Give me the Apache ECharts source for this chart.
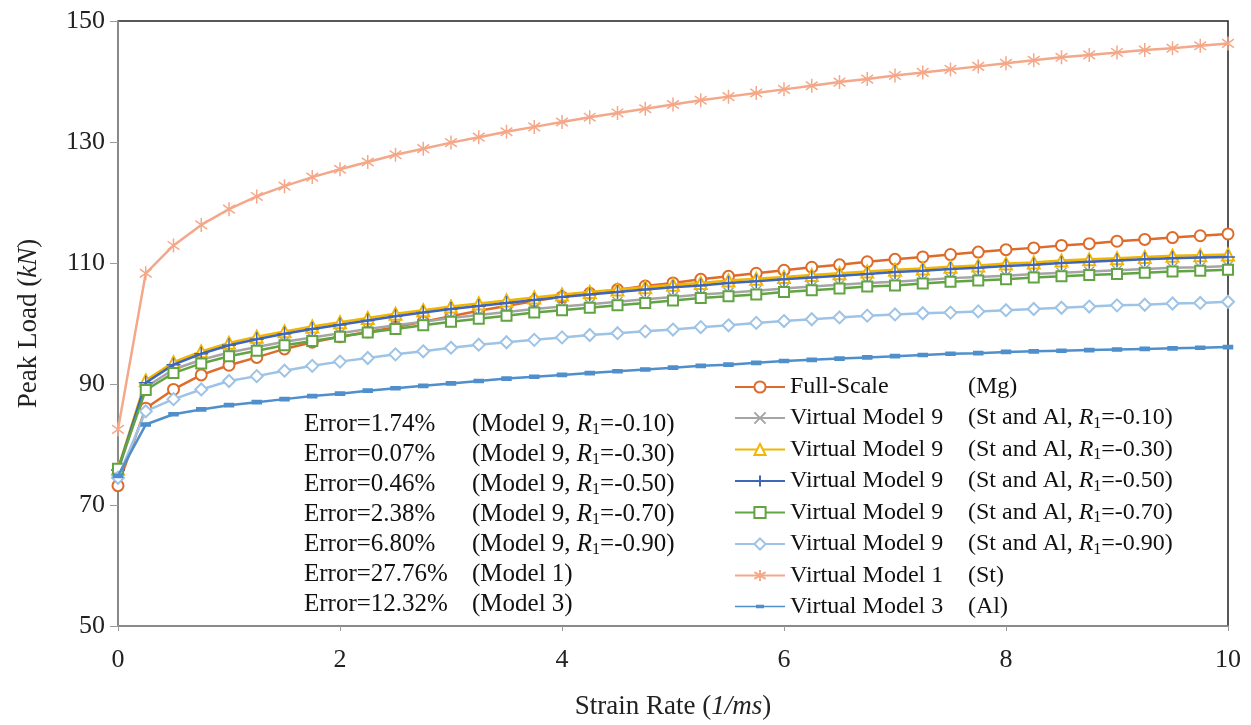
<!DOCTYPE html>
<html>
<head>
<meta charset="utf-8">
<script src="https://cdn.jsdelivr.net/npm/echarts@6/dist/echarts.min.js"></script>
<style>
  html, body { margin: 0; padding: 0; background: #fff; }
  #chart { width: 1251px; height: 725px; }
</style>
</head>
<body>
<div id="chart"></div>
<script>
// strain rate (1/ms)
const strainRate = [0, 0.25, 0.5, 0.75, 1, 1.25, 1.5, 1.75, 2, 2.25, 2.5, 2.75, 3, 3.25, 3.5, 3.75, 4, 4.25, 4.5, 4.75,
  5, 5.25, 5.5, 5.75, 6, 6.25, 6.5, 6.75, 7, 7.25, 7.5, 7.75, 8, 8.25, 8.5, 8.75, 9, 9.25, 9.5, 9.75, 10]

// peak load (kN)
const fullScaleMg = [73.2, 86.0, 89.1, 91.5, 93.1, 94.4, 95.8, 96.9, 97.8, 98.6, 99.4, 100.3, 101.2, 102.1, 102.9, 103.7, 104.4, 105.0, 105.6, 106.2,
  106.7, 107.3, 107.8, 108.3, 108.8, 109.3, 109.7, 110.2, 110.6, 111.0, 111.4, 111.8, 112.2, 112.5, 112.9, 113.2, 113.6, 113.9, 114.2, 114.5, 114.8]
const model9R010 = [75.6, 89.5, 92.4, 94.0, 95.2, 96.1, 97.0, 97.7, 98.4, 99.1, 99.7, 100.3, 100.9, 101.4, 101.9, 102.4, 102.8, 103.2, 103.6, 104.0,
  104.4, 104.8, 105.1, 105.4, 105.8, 106.1, 106.4, 106.7, 106.9, 107.2, 107.5, 107.7, 107.9, 108.2, 108.4, 108.6, 108.8, 109.0, 109.2, 109.3, 109.5]
const model9R030 = [76.0, 90.6, 93.6, 95.4, 96.8, 97.8, 98.7, 99.5, 100.2, 100.9, 101.6, 102.2, 102.8, 103.3, 103.8, 104.3, 104.8, 105.2, 105.6, 106.0,
  106.4, 106.7, 107.1, 107.4, 107.7, 108.0, 108.3, 108.6, 108.9, 109.1, 109.4, 109.6, 109.9, 110.1, 110.4, 110.6, 110.8, 111.0, 111.2, 111.3, 111.4]
const model9R050 = [75.8, 90.2, 93.2, 95.0, 96.4, 97.4, 98.3, 99.1, 99.8, 100.5, 101.2, 101.8, 102.4, 102.9, 103.4, 103.9, 104.4, 104.8, 105.2, 105.6,
  106.0, 106.3, 106.7, 107.0, 107.3, 107.6, 107.9, 108.2, 108.5, 108.7, 109.0, 109.2, 109.5, 109.7, 110.0, 110.2, 110.4, 110.6, 110.8, 110.9, 111.0]
const model9R070 = [76.0, 89.0, 91.8, 93.4, 94.6, 95.5, 96.4, 97.1, 97.8, 98.5, 99.1, 99.7, 100.3, 100.8, 101.3, 101.8, 102.2, 102.6, 103.0, 103.4,
  103.8, 104.2, 104.5, 104.8, 105.2, 105.5, 105.8, 106.1, 106.3, 106.6, 106.9, 107.1, 107.3, 107.6, 107.8, 108.0, 108.2, 108.4, 108.6, 108.7, 108.9]
const model9R090 = [74.5, 85.5, 87.5, 89.1, 90.5, 91.3, 92.2, 93.0, 93.7, 94.3, 94.9, 95.4, 96.0, 96.5, 96.9, 97.3, 97.7, 98.1, 98.4, 98.7,
  99.0, 99.4, 99.7, 100.1, 100.4, 100.7, 101.0, 101.3, 101.5, 101.7, 101.8, 102.0, 102.2, 102.4, 102.6, 102.8, 103.0, 103.1, 103.3, 103.4, 103.6]
const model1St = [82.5, 108.3, 112.9, 116.3, 118.9, 121.0, 122.7, 124.2, 125.5, 126.7, 127.9, 128.9, 129.9, 130.8, 131.7, 132.5, 133.3, 134.1, 134.8, 135.5,
  136.2, 136.9, 137.5, 138.1, 138.7, 139.3, 139.9, 140.4, 141.0, 141.5, 142.0, 142.5, 143.0, 143.5, 144.0, 144.4, 144.8, 145.2, 145.5, 145.9, 146.3]
const model3Al = [74.8, 83.3, 85.0, 85.8, 86.5, 87.0, 87.5, 88.0, 88.4, 88.9, 89.3, 89.7, 90.1, 90.5, 90.9, 91.2, 91.5, 91.8, 92.1, 92.4,
  92.7, 93.0, 93.2, 93.5, 93.8, 94.0, 94.2, 94.4, 94.6, 94.8, 95.0, 95.1, 95.3, 95.4, 95.5, 95.6, 95.7, 95.8, 95.9, 96.0, 96.1]

const seriesLabels = ['Full-Scale', 'Virtual Model 9', 'Virtual Model 9', 'Virtual Model 9', 'Virtual Model 9', 'Virtual Model 9', 'Virtual Model 1', 'Virtual Model 3']
const seriesMaterials = ['Mg', 'St and Al', 'St and Al', 'St and Al', 'St and Al', 'St and Al', 'St', 'Al']
const seriesR1 = [null, '-0.10', '-0.30', '-0.50', '-0.70', '-0.90', null, null]
const seriesData = [fullScaleMg, model9R010, model9R030, model9R050, model9R070, model9R090, model1St, model3Al]

const errorValues = ['1.74', '0.07', '0.46', '2.38', '6.80', '27.76', '12.32']
const errorModels = ['Model 9', 'Model 9', 'Model 9', 'Model 9', 'Model 9', 'Model 1', 'Model 3']
const errorR1 = ['-0.10', '-0.30', '-0.50', '-0.70', '-0.90', null, null]

const FONT = '"Liberation Serif", "Times New Roman", serif'
const colors = ['#DE6B2A', '#A5A5A5', '#F2B600', '#4066B8', '#62A343', '#9DC3E6', '#F4A889', '#4F8FCB']
const symbols = [
  'emptyCircle',
  'path://M0,0L10,10M10,0L0,10',
  'emptyTriangle',
  'path://M5,0L5,10M0,5L10,5',
  'emptyRect',
  'emptyDiamond',
  'path://M5,0L5,10M0.8,2L9.2,8M9.2,2L0.8,8',
  'path://M0,0L10,0L10,3.5L0,3.5Z'
]
const symbolSizes = [11, 10, 12, 14, 10, 12, 14, 9]
const strokeOnly = [false, true, false, true, false, false, true, false]
// legend icon for the dash-marker series (line + small dash)
const dashLegendIcon = 'path://M0,0M50,14M0,6.2L50,6.2L50,7.8L0,7.8ZM21,5.2L29,5.2L29,8.8L21,8.8Z'

const richText = {
  a: { fontFamily: FONT, fontSize: 24, color: '#111', width: 178 },
  b: { fontFamily: FONT, fontSize: 24, color: '#111' },
  i: { fontFamily: FONT, fontSize: 24, color: '#111', fontStyle: 'italic' },
  s: { fontFamily: FONT, fontSize: 16, color: '#111', padding: [11, 0, 0, 0] }
}

function r1Part(tag, r1) {
  return '{' + tag + '|, }{i|R}{s|1}{' + tag + '|=' + r1 + ')}'
}

const names = seriesLabels.map((l, i) => l + ' #' + i)

const series = seriesData.map((vals, i) => ({
  name: names[i],
  type: 'line',
  data: strainRate.map((x, k) => [x, vals[k]]),
  symbol: symbols[i],
  symbolSize: symbolSizes[i],
  symbolKeepAspect: true,
  showAllSymbol: true,
  lineStyle: { color: colors[i], width: 2.5 },
  itemStyle: { color: strokeOnly[i] ? 'transparent' : colors[i], borderColor: colors[i], borderWidth: 1.5 },
  emphasis: { disabled: true },
  animation: false,
  z: 2 + i
}))

const graphics = []
errorValues.forEach((v, i) => {
  const y = 426 + i * 30
  graphics.push({
    type: 'text', left: 304, top: y - 14,
    style: { text: 'Error=' + v + '%', font: '25px ' + FONT, fill: '#111' }
  })
  let txt = '{e|(' + errorModels[i] + '}'
  txt += errorR1[i] ? '{e|, }{ei|R}{es|1}{e|=' + errorR1[i] + ')}' : '{e|)}'
  graphics.push({
    type: 'text', left: 472, top: y - 14,
    style: {
      text: txt,
      rich: {
        e: { font: '25px ' + FONT, fill: '#111' },
        ei: { font: 'italic 25px ' + FONT, fill: '#111' },
        es: { font: '16px ' + FONT, fill: '#111', padding: [11, 0, 0, 0] }
      }
    }
  })
})

const legendData = names.map((n, i) => i === 7
  ? { name: n, icon: dashLegendIcon, itemStyle: { color: colors[i], borderWidth: 0 } }
  : { name: n })

const chart = echarts.init(document.getElementById('chart'))
chart.setOption({
  backgroundColor: '#fff',
  animation: false,
  grid: { left: 118, right: 23, top: 21, bottom: 95, show: true, borderColor: '#222', borderWidth: 1.5, backgroundColor: 'transparent' },
  xAxis: {
    type: 'value', min: 0, max: 10, interval: 2,
    name: '{n|Strain Rate (}{ni|1/ms}{n|)}',
    nameLocation: 'middle', nameGap: 67,
    nameTextStyle: {
      rich: {
        n: { fontFamily: FONT, fontSize: 27, color: '#222' },
        ni: { fontFamily: FONT, fontSize: 27, color: '#222', fontStyle: 'italic' }
      }
    },
    axisLine: { lineStyle: { color: '#9a9a9a', width: 1.5 } },
    axisTick: { show: true, length: 5, lineStyle: { color: '#9a9a9a' } },
    axisLabel: { fontFamily: FONT, fontSize: 26, color: '#222', margin: 21 },
    splitLine: { show: false }
  },
  yAxis: {
    type: 'value', min: 50, max: 150, interval: 20,
    name: '{n|Peak Load (}{ni|kN}{n|)}',
    nameLocation: 'middle', nameGap: 76, nameRotate: 90,
    nameTextStyle: {
      rich: {
        n: { fontFamily: FONT, fontSize: 27, color: '#222' },
        ni: { fontFamily: FONT, fontSize: 27, color: '#222', fontStyle: 'italic' }
      }
    },
    axisLine: { show: true, lineStyle: { color: '#9a9a9a', width: 1.5 } },
    axisTick: { show: true, length: 8, lineStyle: { color: '#9a9a9a' } },
    axisLabel: { fontFamily: FONT, fontSize: 26, color: '#222', margin: 13 },
    splitLine: { show: false }
  },
  legend: {
    orient: 'vertical', left: 729, top: 369,
    itemWidth: 50, itemHeight: 14, itemGap: 5.0,
    data: legendData,
    formatter: function (name) {
      const i = names.indexOf(name)
      let s = '{a|' + seriesLabels[i] + '}{b|(' + seriesMaterials[i] + '}'
      s += seriesR1[i] ? r1Part('b', seriesR1[i]) : '{b|)}'
      return s
    },
    textStyle: { rich: richText, lineHeight: 26 },
    selectedMode: false
  },
  graphic: graphics,
  series: series
})
</script>
</body>
</html>
